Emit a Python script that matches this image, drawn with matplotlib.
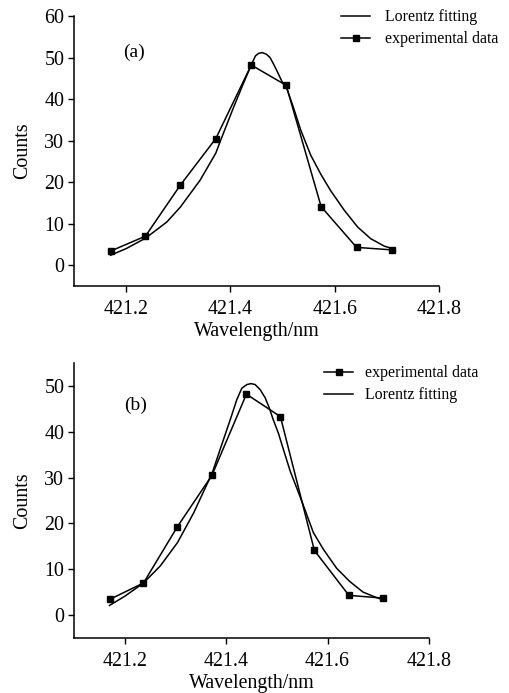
import matplotlib
matplotlib.use("Agg")
import matplotlib.pyplot as plt

# experimental data (same in both panels)
wavelength = [421.170, 421.237, 421.304, 421.372, 421.440, 421.507, 421.574, 421.642, 421.709]
counts = [3.4, 7.0, 19.3, 30.5, 48.2, 43.3, 14.1, 4.3, 3.7]

# Lorentz fitting curve, panel (a)
fit_a_x = [421.170, 421.200, 421.237, 421.278, 421.304, 421.342, 421.372, 421.381,
           421.406, 421.425, 421.440, 421.448, 421.454, 421.461, 421.469, 421.476,
           421.482, 421.490, 421.499, 421.508, 421.520, 421.535, 421.554, 421.573,
           421.592, 421.618, 421.644, 421.669, 421.695, 421.711]
fit_a_y = [2.4, 4.0, 6.5, 10.4, 14.0, 20.5, 27.0, 30.0,
           38.0, 43.8, 48.2, 50.4, 51.0, 51.2, 50.8, 50.0,
           48.6, 46.6, 44.2, 42.6, 38.3, 32.5, 26.5, 22.0,
           18.0, 13.3, 9.2, 6.4, 4.6, 4.0]

# Lorentz fitting curve, panel (b)
fit_b_x = [421.170, 421.200, 421.236, 421.270, 421.304, 421.336, 421.362, 421.371,
           421.388, 421.408, 421.421, 421.431, 421.441, 421.449, 421.457, 421.467,
           421.477, 421.485, 421.493, 421.503, 421.513, 421.526, 421.540, 421.552,
           421.572, 421.592, 421.618, 421.644, 421.670, 421.697, 421.707]
fit_b_y = [2.1, 4.1, 6.9, 10.7, 15.8, 22.3, 28.5, 30.5,
           36.1, 42.6, 47.0, 49.5, 50.3, 50.5, 50.3, 49.2,
           47.4, 45.2, 42.6, 39.7, 36.1, 31.5, 27.5, 24.0,
           18.0, 14.3, 10.2, 7.3, 5.0, 3.8, 3.4]

x_ticks = [421.2, 421.4, 421.6, 421.8]
x_tick_labels = ["421.2", "421.4", "421.6", "421.8"]
y_ticks_a = [0, 10, 20, 30, 40, 50, 60]
y_ticks_b = [0, 10, 20, 30, 40, 50]

plt.rcParams['font.family'] = ['Liberation Serif', 'DejaVu Serif']

fig = plt.figure(figsize=(5.09, 6.93), dpi=100)
ax_a = fig.add_axes([0.1454, 0.5873, 0.717, 0.3896])
ax_b = fig.add_axes([0.1454, 0.0794, 0.6974, 0.3968])

def style(ax, yticks, ylim):
    ax.set_xlim(421.1, 421.8)
    ax.set_ylim(*ylim)
    ax.set_xticks(x_ticks)
    ax.set_xticklabels(x_tick_labels)
    ax.set_yticks(yticks)
    for s in ('top', 'right'):
        ax.spines[s].set_visible(False)
    for s in ('left', 'bottom'):
        ax.spines[s].set_linewidth(1.1)
    ax.tick_params(direction='out', length=4, width=1.0, labelsize=14.4)
    ax.tick_params(axis='x', pad=6)
    ax.tick_params(axis='y', pad=3)
    ax.set_xlabel("Wavelength/nm", fontsize=14.4, labelpad=2)
    ax.set_ylabel("Counts", fontsize=14.4, labelpad=9)

# panel (a)
l_fit_a, = ax_a.plot(fit_a_x, fit_a_y, color='black', lw=1.1, label='Lorentz fitting')
l_exp_a, = ax_a.plot(wavelength, counts, color='black', lw=1.1, marker='s', ms=4.5,
                     label='experimental data')
style(ax_a, y_ticks_a, (-5, 60))
ax_a.text(421.215, 51.3, "(a)", fontsize=14, ha='center', va='center')
ax_a.legend(handles=[l_fit_a, l_exp_a], loc='upper left',
            bbox_to_anchor=(338 / 509, 1 - 6 / 693), bbox_transform=fig.transFigure,
            frameon=False, fontsize=11.4, handlelength=1.85, handletextpad=0.9,
            labelspacing=0.38, numpoints=1, borderaxespad=0, borderpad=0.2)

# panel (b)
l_exp_b, = ax_b.plot(wavelength, counts, color='black', lw=1.1, marker='s', ms=4.5,
                     label='experimental data')
l_fit_b, = ax_b.plot(fit_b_x, fit_b_y, color='black', lw=1.1, label='Lorentz fitting')
style(ax_b, y_ticks_b, (-5, 55))
ax_b.text(421.221, 45.7, "(b)", fontsize=14, ha='center', va='center')
ax_b.legend(handles=[l_exp_b, l_fit_b], loc='upper left',
            bbox_to_anchor=(321 / 509, 1 - 362 / 693), bbox_transform=fig.transFigure,
            frameon=False, fontsize=11.4, handlelength=1.85, handletextpad=0.75,
            labelspacing=0.38, numpoints=1, borderaxespad=0, borderpad=0.2)

fig.savefig("out.png", dpi=100, facecolor='white')
